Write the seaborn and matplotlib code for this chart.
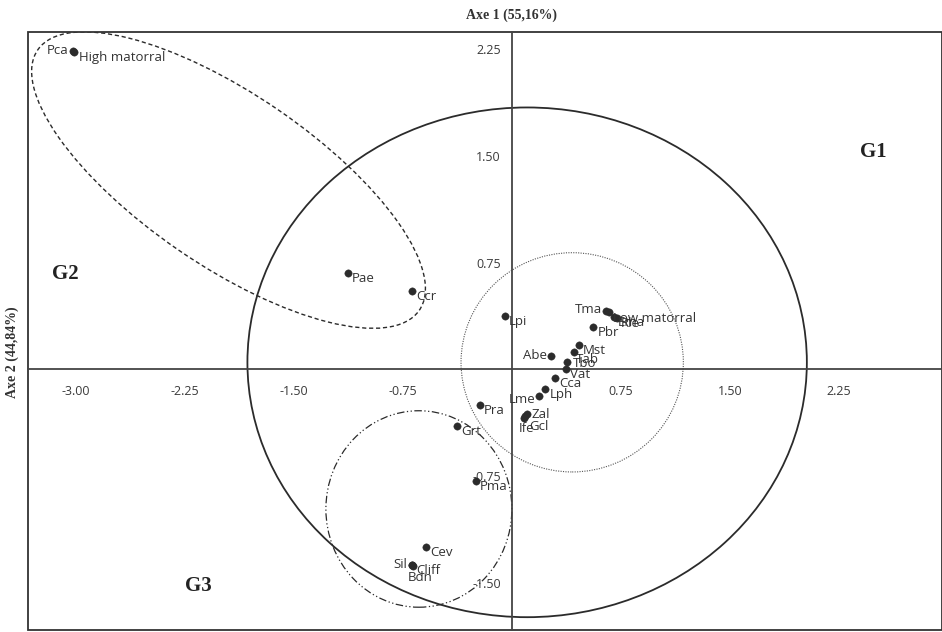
import numpy as np
import pandas as pd
import seaborn as sns
import matplotlib.pyplot as plt
from matplotlib.patches import Ellipse, Rectangle

# species / variables projected on the first factorial plane
names = ["Pca", "High matorral", "Pae", "Ccr", "Lpi", "Tma", "Low matorral", "Ema", "Rle",
         "Pbr", "Mst", "Tab", "Tbo", "Vat", "Abe", "Cca", "Lph", "Lme", "Zal", "Gcl", "Ife",
         "Pra", "Grt", "Pma", "Cev", "Sil", "Cliff", "Bdn"]
axe1 = [-3.02, -3.01, -1.13, -0.69, -0.05, 0.65, 0.67, 0.70, 0.72,
        0.56, 0.46, 0.43, 0.38, 0.37, 0.27, 0.30, 0.23, 0.19, 0.105, 0.09, 0.08,
        -0.22, -0.38, -0.25, -0.59, -0.69, -0.685, -0.68]
axe2 = [2.24, 2.23, 0.68, 0.55, 0.375, 0.41, 0.40, 0.37, 0.36,
        0.30, 0.17, 0.125, 0.05, 0.00, 0.095, -0.057, -0.14, -0.19, -0.31, -0.33, -0.34,
        -0.25, -0.40, -0.78, -1.25, -1.37, -1.37, -1.38]

xticks = [-3.00, -2.25, -1.50, -0.75, 0.75, 1.50, 2.25]
yticks = [-1.50, -0.75, 0.75, 1.50, 2.25]
groups = ["G1", "G2", "G3"]
axis_titles = ["Axe 1 (55,16%)", "Axe 2 (44,84%)"]

df = pd.DataFrame({"name": names, "axe1": axe1, "axe2": axe2})

sns.set_style("white")
plt.rcParams["font.family"] = ["Open Sans", "DejaVu Sans"]

fig = plt.figure(figsize=(9.42, 6.32), dpi=100)
ax = fig.add_axes([28 / 942, 2 / 632, 914 / 942, 598 / 632])

ink = "#2b2b2b"
sns.scatterplot(data=df, x="axe1", y="axe2", ax=ax, color=ink, s=28,
                edgecolor=ink, linewidth=0.3, zorder=5, legend=False)

# label placement (offset in points, ha, va); default = right of the point
special = {
    "Pca": ((-3, 0), "right", "center"),
    "Tma": ((-3, 1), "right", "center"),
    "Abe": ((-3, 0), "right", "center"),
    "Lme": ((-3, -2), "right", "center"),
    "Sil": ((-3, 0), "right", "center"),
    "Ife": ((2, -3), "center", "top"),
    "Bdn": ((5, -4), "center", "top"),
    "Tab": ((1, -6), "left", "center"),
    "Tbo": ((4, -1), "left", "center"),
    "Gcl": ((3, -7), "left", "center"),
    "Zal": ((3, -1), "left", "center"),
}
for _, r in df.iterrows():
    off, ha, va = special.get(r["name"], ((3, -4), "left", "center"))
    ax.annotate(r["name"], (r["axe1"], r["axe2"]), xytext=off, textcoords="offset points",
                ha=ha, va=va, fontsize=9.5, color="#333333", zorder=6)

# group envelopes
ax.add_patch(Ellipse((0.105, 0.05), 3.85, 3.58, fill=False, ec=ink, lw=1.3))
ax.add_patch(Ellipse((0.415, 0.05), 1.53, 1.54, fill=False, ec="#555555", lw=0.8,
                     ls=(0, (1, 1.2))))
ax.add_patch(Ellipse((-1.95, 1.33), 3.2, 1.2, angle=-35, fill=False, ec=ink, lw=1.0,
                     ls=(0, (3, 2))))
ax.add_patch(Ellipse((-0.64, -0.98), 1.28, 1.38, fill=False, ec=ink, lw=0.9,
                     ls=(0, (6, 2, 1, 2, 1, 2))))

for g, (gx, gy) in zip(groups, [(2.49, 1.53), (-3.07, 0.67), (-2.16, -1.52)]):
    ax.text(gx, gy, g, fontsize=15, fontweight="bold", family="Liberation Serif",
            color="#222222", ha="center", va="center")

ax.set_xlim(-3.33, 2.96)
ax.set_ylim(-1.83, 2.37)

# axes through the origin
for s in ["top", "right"]:
    ax.spines[s].set_visible(False)
ax.spines["left"].set_position(("data", 0))
ax.spines["bottom"].set_position(("data", 0))
for s in ["left", "bottom"]:
    ax.spines[s].set_color("#444444")
    ax.spines[s].set_linewidth(1.3)
ax.set_xticks(xticks)
ax.set_yticks(yticks)
ax.set_xticklabels([f"{t:.2f}" for t in xticks])
ax.set_yticklabels([f"{t:.2f}" for t in yticks])
ax.tick_params(axis="both", direction="out", length=4, width=1, color="#444444",
               labelsize=9, labelcolor="#3a3a3a", pad=4)
ax.tick_params(axis="x", pad=7)
ax.set_xlabel("")
ax.set_ylabel("")

ax.add_patch(Rectangle((0, 0), 1, 1, transform=ax.transAxes, fill=False, ec="#333333",
                       lw=1.3, clip_on=False))

fig.text(512 / 942, 1 - 15 / 632, axis_titles[0], ha="center", va="center", fontsize=10,
         fontweight="bold", family="Liberation Serif", color="#333333")
fig.text(12 / 942, 1 - 352 / 632, axis_titles[1], ha="center", va="center", fontsize=10,
         fontweight="bold", family="Liberation Serif", color="#333333", rotation=90)

fig.savefig("out.png", dpi=100)
